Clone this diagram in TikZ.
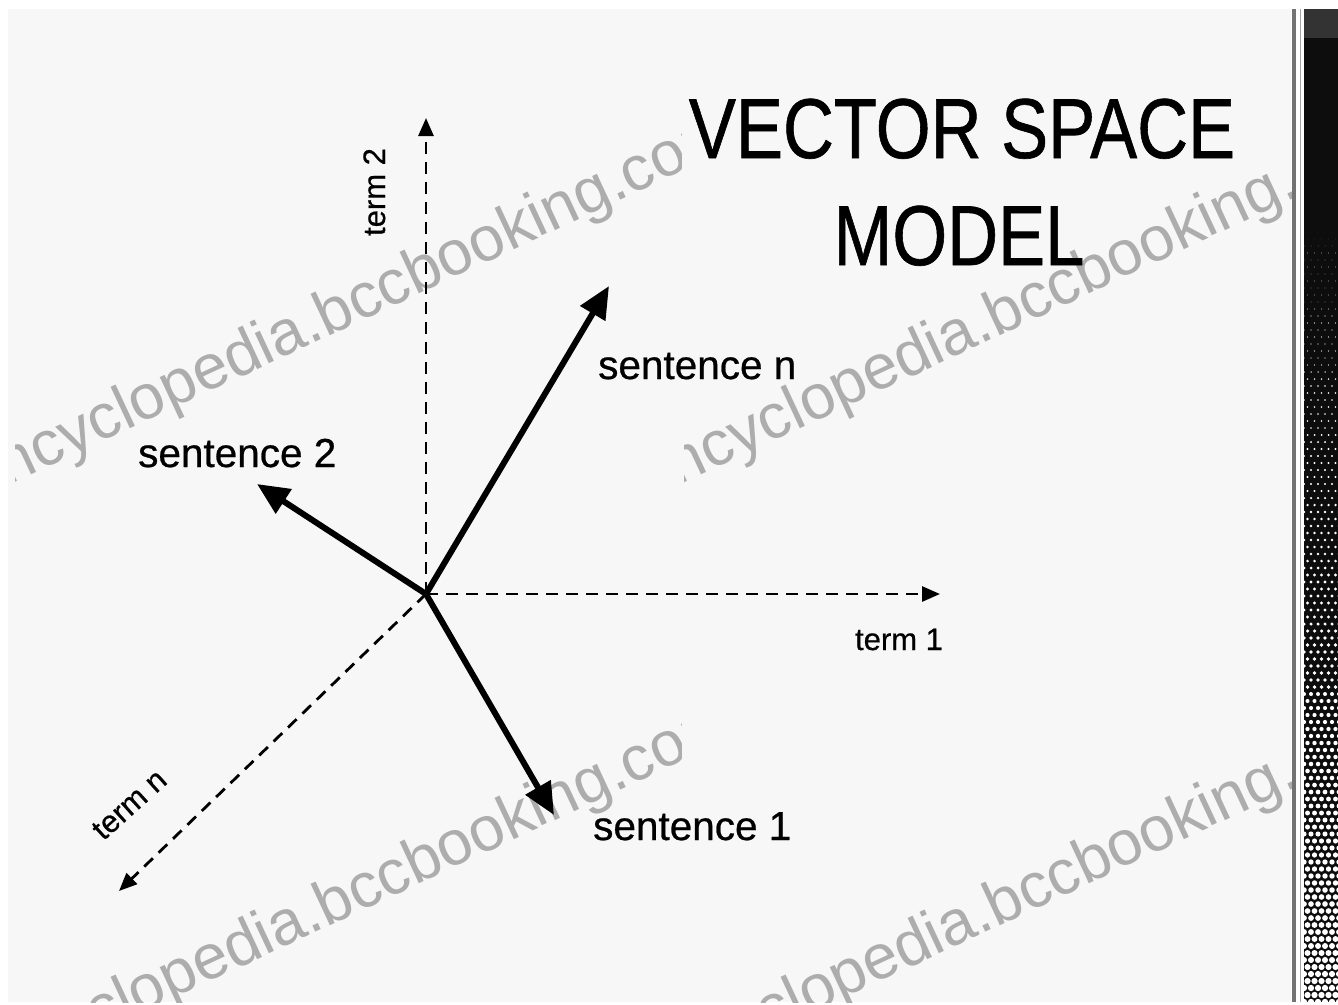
\documentclass[tikz,border=0pt]{standalone}
\usepackage{fontspec}
\setmainfont{Liberation Sans}
\newfontfamily\lblfont[FakeBold=0.6]{Liberation Sans}
\newfontfamily\ttlfont[FakeBold=0.8]{Liberation Sans}
\usetikzlibrary{arrows.meta}
\definecolor{slidebg}{HTML}{F7F7F7}
\definecolor{markgray}{HTML}{ADADAD}
\begin{document}
\begin{tikzpicture}[x=1pt,y=-1pt,
  axis/.style={line width=2.8pt,dash pattern=on 12pt off 8pt,-{Triangle[length=18pt,width=15pt]}},
  vec/.style={line width=6pt,-{Triangle[length=32pt,width=28pt]}},
  lbl/.style={inner sep=0pt,anchor=base west,font=\lblfont\fontsize{40.5}{40.5}\selectfont},
  axlbl/.style={inner sep=0pt,anchor=base,font=\lblfont\fontsize{31}{31}\selectfont},
  wmark/.style={inner sep=0pt,anchor=base west,rotate=25,text=markgray,font=\fontsize{63}{63}\selectfont},
  ttl/.style={inner sep=0pt,anchor=base,font=\ttlfont\fontsize{85}{85}\selectfont}]
\fill[white] (0,0) rectangle (1338,1002);
\fill[slidebg] (8,9) rectangle (1291,1002);
\draw[black!55,line width=4pt] (1294,9) -- (1294,1002);
\draw[black!35,line width=1.5pt] (1300.5,9) -- (1300.5,1002);
\fill[black!80] (1304,9) rectangle (1338,38);
\fill[black!95] (1304,38) rectangle (1338,1002);
\begin{scope}
\clip (1304,38) rectangle (1338,1002);
\foreach \r in {0,...,110}{
  \foreach \c in {0,...,5}{
    \fill[white] ({1304+\c*7+mod(\r,2)*3.5},{232+\r*7}) circle ({0.2+3*\r/110});
  }
}
\end{scope}

\begin{scope}
\clip (15,9) rectangle (681,1002);
\node[wmark] (wm1) at (-23,500) {encyclopedia.bccbooking.com};
\node[wmark] (wm3) at (-23,1090) {encyclopedia.bccbooking.com};
\end{scope}
\begin{scope}
\clip (684,9) rectangle (1291,1002);
\node[wmark] (wm2) at (647,500) {encyclopedia.bccbooking.com};
\node[wmark] (wm4) at (647,1090) {encyclopedia.bccbooking.com};
\end{scope}

\coordinate (O) at (426,594);
\coordinate (t1) at (940,594);
\coordinate (t2) at (426,118);
\coordinate (tn) at (119,891);
\coordinate (s1) at (554,815);
\coordinate (s2) at (257,484);
\coordinate (sn) at (609,286);

\draw[axis] (O) -- (t2);
\draw[axis] (O) -- (t1);
\draw[axis] (O) -- (tn);
\draw[vec] (O) -- (sn);
\draw[vec] (O) -- (s2);
\draw[vec] (O) -- (s1);

\node[lbl] (labn) at (598,379) {sentence n};
\node[lbl] (lab2) at (138,467) {sentence 2};
\node[lbl] (lab1) at (593,840) {sentence 1};
\node[axlbl] (ax1) at (899,650) {term 1};
\node[axlbl,rotate=90] (ax2) at (385,192) {term 2};
\node[axlbl,rotate=42] (axn) at (136,812) {term n};

\node[ttl] (ttl1) at (962,158) {\scalebox{0.83}[1]{VECTOR SPACE}};
\node[ttl] (ttl2) at (959,265) {\scalebox{0.83}[1]{MODEL}};
\end{tikzpicture}
\end{document}
